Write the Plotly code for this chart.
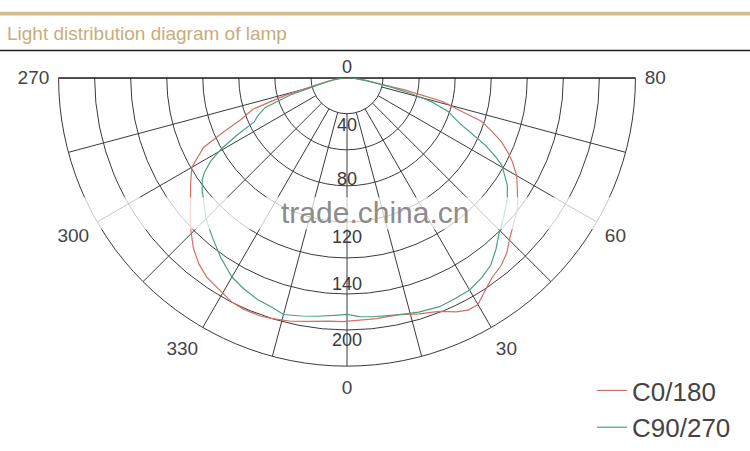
import plotly.graph_objects as go

# ---- data (radial unit: cd-like scale, outer ring = 240) ----
theta_c0 = [-90, -84, -80, -77, -74, -71.5, -68.5, -66, -64, -60, -56, -52.5, -49, -45.5, -42,
            -38.5, -35, -31, -27, -24, -20, -17.5, -13, -8.5, -4, -1, 3, 7, 12.5, 17, 21.5,
            25, 27.5, 30, 33, 36, 39.5, 42.5, 45.5, 49, 52.5, 57, 60, 63, 65, 67.5, 70, 72,
            74, 76, 78, 79, 82, 86, 90]
r_c0 = [0, 6.6, 14.8, 25.5, 53.4, 82.2, 94.5, 115, 133, 149, 157, 164, 173, 182, 191,
        198, 203, 206, 210, 211, 211, 210, 208, 205, 203, 203, 202, 202, 202, 205.5, 209,
        215, 218, 218, 211, 205.5, 202, 197, 190, 184, 179, 169, 163, 154.5, 148, 139, 127, 117.5,
        96, 82, 49, 30, 15, 5, 0]

theta_c90 = [-90, -84, -80, -76, -73, -70, -67, -64.5, -62.5, -60.5, -58.5, -56.5, -55, -52, -50,
             -45, -40, -35, -30, -26, -22, -18, -15, -11, -7, -3, 0, 3, 6, 9, 12.5, 17, 22, 26,
             30, 34, 37.5, 41, 44, 47, 50.5, 53, 56, 58, 60.5, 62, 64, 66, 67.5, 69.5, 71.5,
             74, 76, 78, 81, 85, 90]
r_c90 = [0, 4.9, 12.3, 24.7, 49.3, 72.3, 80.6, 85.5, 102.8, 120, 133, 142, 147, 153, 156,
         166, 174, 183, 191.5, 195.6, 199, 201, 204, 202, 200, 198, 197, 199, 200, 200.6, 202, 204, 205.5, 204.7,
         204, 200.6, 196.5, 189, 181.7, 176.7, 171, 167, 161, 155, 148, 140, 128, 113, 103.6, 95, 89,
         74, 56, 37, 18, 6.6, 0]

series_names = ["C0/180", "C90/270"]
series_colors = ["#d0716a", "#4aa27c"]

ring_values = [30, 60, 90, 120, 150, 180, 210]
r_max = 240
inner_r = 30
spoke_angles = [-75, -60, -45, -30, -15, 0, 15, 30, 45, 60, 75]

angle_ticks = [270, 300, 330, 360, 390, 420, 450]
angle_labels = ["270", "300", "330", "0", "30", "60", "80"]

radial_label_text = ["40", "80", "120", "140", "200"]
radial_label_r = [41, 85.5, 134, 172.5, 219.5]

FONT = "Liberation Sans, Arial, sans-serif"

fig = go.Figure()

# spokes (start at inner ring)
sr, st = [], []
for a in spoke_angles:
    sr += [inner_r, r_max, None]
    st += [a, a, None]
fig.add_trace(go.Scatterpolar(r=sr, theta=st, mode="lines",
                              line=dict(color="#3a3a3a", width=1), showlegend=False,
                              hoverinfo="skip"))
# top diameter line
fig.add_trace(go.Scatterpolar(r=[r_max, 0, r_max], theta=[-90, 0, 90], mode="lines",
                              line=dict(color="#111111", width=2), showlegend=False,
                              hoverinfo="skip"))

fig.add_trace(go.Scatterpolar(r=r_c0, theta=theta_c0, mode="lines", name=series_names[0],
                              line=dict(color=series_colors[0], width=1.2)))
fig.add_trace(go.Scatterpolar(r=r_c90, theta=theta_c90, mode="lines", name=series_names[1],
                              line=dict(color=series_colors[1], width=1.2)))

# radial labels along the 0 spoke
fig.add_trace(go.Scatterpolar(r=radial_label_r, theta=[0] * len(radial_label_r), mode="text",
                              text=radial_label_text, textposition="middle center",
                              textfont=dict(size=18, color="#3a3a3a", family=FONT),
                              showlegend=False, cliponaxis=False, hoverinfo="skip"))
# top "0" label at the centre
fig.add_trace(go.Scatterpolar(r=[0], theta=[0], mode="text", text=["0"],
                              textposition="top center",
                              textfont=dict(size=18, color="#3a3a3a", family=FONT),
                              showlegend=False, cliponaxis=False, hoverinfo="skip"))

W, H = 750, 451
cx, R = 347, 297
top_y, bot_y = 80, 80 + R

fig.update_layout(
    width=W, height=H, margin=dict(l=0, r=0, t=0, b=0),
    paper_bgcolor="white", plot_bgcolor="white",
    font=dict(family=FONT, color="#3a3a3a"),
    polar=dict(
        domain=dict(x=[(cx - R) / W, (cx + R) / W], y=[1 - bot_y / H, 1 - top_y / H]),
        sector=[180, 360],
        bgcolor="white",
        angularaxis=dict(rotation=270, direction="counterclockwise",
                         tickmode="array", tickvals=angle_ticks, ticktext=angle_labels,
                         showgrid=False, ticks="outside", ticklen=5, tickcolor="rgba(0,0,0,0)",
                         showline=True, linecolor="#3a3a3a",
                         linewidth=1, tickfont=dict(size=19, color="#444444", family=FONT)),
        radialaxis=dict(range=[0, r_max], tickmode="array", tickvals=ring_values,
                        showticklabels=False, ticks="", showline=False,
                        gridcolor="#3a3a3a", gridwidth=1),
    ),
    legend=dict(x=592 / W, y=1 - 378 / H, xanchor="left", yanchor="top",
                bgcolor="rgba(0,0,0,0)", font=dict(size=26, color="#444444", family=FONT)),
    shapes=[
        dict(type="rect", xref="paper", yref="paper", x0=0, x1=1, y0=1 - 16 / H, y1=1 - 12 / H,
             fillcolor="#d4bd8c", line=dict(width=0), layer="above"),
        dict(type="line", xref="paper", yref="paper", x0=0, x1=1, y0=1 - 52 / H, y1=1 - 52 / H,
             line=dict(color="#222222", width=1.5)),
        dict(type="rect", xref="paper", yref="paper", x0=40 / W, x1=655 / W,
             y0=1 - 236 / H, y1=1 - 203 / H, fillcolor="rgba(255,255,255,0.72)",
             line=dict(width=0), layer="above"),
    ],
    annotations=[
        dict(text="Light distribution diagram of lamp", xref="paper", yref="paper",
             x=5 / W, y=1 - 34 / H, xanchor="left", yanchor="middle", showarrow=False,
             font=dict(size=19, color="#c7ad7b", family=FONT)),
        dict(text="trade.china.cn", xref="paper", yref="paper", x=375 / W, y=1 - 219 / H,
             xanchor="center", yanchor="middle", showarrow=False,
             font=dict(size=30, color="#8c8c8c", family=FONT)),
    ],
)

fig.write_html("out.html", config={"displayModeBar": False},
               post_script="document.body.style.margin='0';")
